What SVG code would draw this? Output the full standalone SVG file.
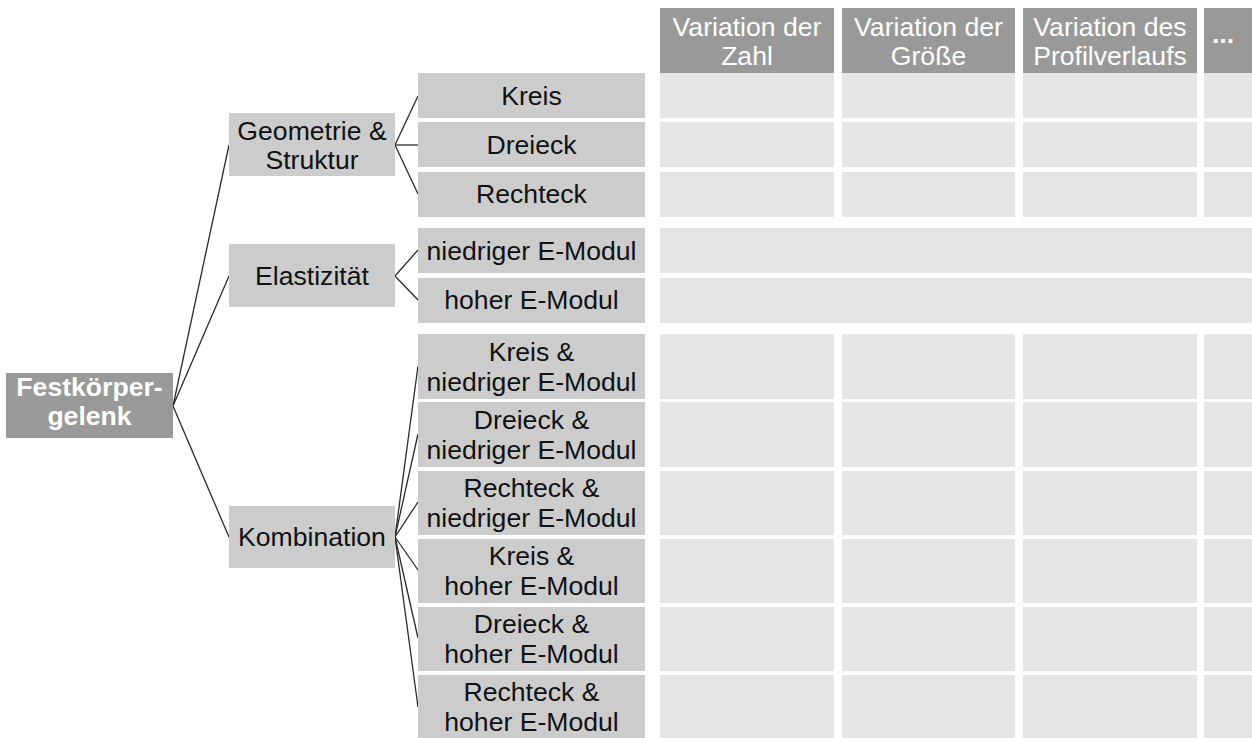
<svg xmlns="http://www.w3.org/2000/svg" width="1252" height="738" viewBox="0 0 1252 738">
  <style>
    .root { fill: #999999; }
    .node { fill: #cccccc; }
    .head { fill: #999999; }
    .cell { fill: #e5e5e5; }
    .t { font-family: "Liberation Sans", Arial, sans-serif; font-size: 26.6px; fill: #111111; text-anchor: middle; }
    .th { font-family: "Liberation Sans", Arial, sans-serif; font-size: 26.6px; fill: #ffffff; text-anchor: middle; }
    .tr { font-family: "Liberation Sans", Arial, sans-serif; font-size: 26.6px; font-weight: bold; fill: #ffffff; text-anchor: middle; }
    .link { stroke: #2a2a2a; stroke-width: 1.3; fill: none; }
  </style>

  <!-- column headers -->
  <g id="header-zahl">
    <rect class="head" x="660" y="8" width="174" height="65"/>
    <text class="th" x="747" y="36">Variation der</text>
    <text class="th" x="747" y="65">Zahl</text>
  </g>
  <g id="header-groesse">
    <rect class="head" x="842" y="8" width="173" height="65"/>
    <text class="th" x="928.5" y="36">Variation der</text>
    <text class="th" x="928.5" y="65">Größe</text>
  </g>
  <g id="header-profil">
    <rect class="head" x="1023" y="8" width="174" height="65"/>
    <text class="th" x="1110" y="36">Variation des</text>
    <text class="th" x="1110" y="65">Profilverlaufs</text>
  </g>
  <g id="header-more">
    <rect class="head" x="1204" y="8" width="48" height="65"/>
    <text class="th" x="1223" y="43" font-weight="bold">...</text>
  </g>

  <!-- matrix cells -->
  <g id="cells">
    <!-- shape rows -->
    <rect class="cell" x="660" y="73" width="174" height="45"/>
    <rect class="cell" x="842" y="73" width="173" height="45"/>
    <rect class="cell" x="1023" y="73" width="174" height="45"/>
    <rect class="cell" x="1204" y="73" width="48" height="45"/>
    <rect class="cell" x="660" y="122" width="174" height="45"/>
    <rect class="cell" x="842" y="122" width="173" height="45"/>
    <rect class="cell" x="1023" y="122" width="174" height="45"/>
    <rect class="cell" x="1204" y="122" width="48" height="45"/>
    <rect class="cell" x="660" y="172" width="174" height="45"/>
    <rect class="cell" x="842" y="172" width="173" height="45"/>
    <rect class="cell" x="1023" y="172" width="174" height="45"/>
    <rect class="cell" x="1204" y="172" width="48" height="45"/>
    <!-- elasticity rows span the full width -->
    <rect class="cell" x="660" y="228" width="592" height="45"/>
    <rect class="cell" x="660" y="278" width="592" height="45"/>
    <!-- combination rows -->
    <rect class="cell" x="660" y="334" width="174" height="65"/>
    <rect class="cell" x="842" y="334" width="173" height="65"/>
    <rect class="cell" x="1023" y="334" width="174" height="65"/>
    <rect class="cell" x="1204" y="334" width="48" height="65"/>
    <rect class="cell" x="660" y="402" width="174" height="65"/>
    <rect class="cell" x="842" y="402" width="173" height="65"/>
    <rect class="cell" x="1023" y="402" width="174" height="65"/>
    <rect class="cell" x="1204" y="402" width="48" height="65"/>
    <rect class="cell" x="660" y="471" width="174" height="64"/>
    <rect class="cell" x="842" y="471" width="173" height="64"/>
    <rect class="cell" x="1023" y="471" width="174" height="64"/>
    <rect class="cell" x="1204" y="471" width="48" height="64"/>
    <rect class="cell" x="660" y="539" width="174" height="64"/>
    <rect class="cell" x="842" y="539" width="173" height="64"/>
    <rect class="cell" x="1023" y="539" width="174" height="64"/>
    <rect class="cell" x="1204" y="539" width="48" height="64"/>
    <rect class="cell" x="660" y="607" width="174" height="64"/>
    <rect class="cell" x="842" y="607" width="173" height="64"/>
    <rect class="cell" x="1023" y="607" width="174" height="64"/>
    <rect class="cell" x="1204" y="607" width="48" height="64"/>
    <rect class="cell" x="660" y="675" width="174" height="64"/>
    <rect class="cell" x="842" y="675" width="173" height="64"/>
    <rect class="cell" x="1023" y="675" width="174" height="64"/>
    <rect class="cell" x="1204" y="675" width="48" height="64"/>
  </g>

  <!-- connectors -->
  <g id="connectors">
    <line class="link" x1="173" y1="406" x2="229" y2="145"/>
    <line class="link" x1="173" y1="406" x2="229" y2="276"/>
    <line class="link" x1="173" y1="406" x2="229" y2="537"/>
    <line class="link" x1="395" y1="145" x2="418" y2="96"/>
    <line class="link" x1="395" y1="145" x2="418" y2="145"/>
    <line class="link" x1="395" y1="145" x2="418" y2="194"/>
    <line class="link" x1="395" y1="276" x2="418" y2="250"/>
    <line class="link" x1="395" y1="276" x2="418" y2="300"/>
    <line class="link" x1="395" y1="537" x2="418" y2="366"/>
    <line class="link" x1="395" y1="537" x2="418" y2="434"/>
    <line class="link" x1="395" y1="537" x2="418" y2="502"/>
    <line class="link" x1="395" y1="537" x2="418" y2="570"/>
    <line class="link" x1="395" y1="537" x2="418" y2="638"/>
    <line class="link" x1="395" y1="537" x2="418" y2="707"/>
  </g>

  <!-- root -->
  <g id="festkoerpergelenk">
    <rect class="root" x="6" y="373" width="167" height="65"/>
    <text class="tr" x="89.5" y="396">Festkörper-</text>
    <text class="tr" x="89.5" y="425">gelenk</text>
  </g>

  <!-- second level -->
  <g id="geometrie">
    <rect class="node" x="229" y="113" width="166" height="63"/>
    <text class="t" x="312" y="140">Geometrie &amp;</text>
    <text class="t" x="312" y="169">Struktur</text>
  </g>
  <g id="elastizitaet">
    <rect class="node" x="229" y="244" width="166" height="63"/>
    <text class="t" x="312" y="285">Elastizität</text>
  </g>
  <g id="kombination">
    <rect class="node" x="229" y="506" width="166" height="62"/>
    <text class="t" x="312" y="546">Kombination</text>
  </g>

  <!-- third level -->
  <g id="kreis">
    <rect class="node" x="418" y="73" width="227" height="45"/>
    <text class="t" x="531.5" y="105">Kreis</text>
  </g>
  <g id="dreieck">
    <rect class="node" x="418" y="122" width="227" height="45"/>
    <text class="t" x="531.5" y="154">Dreieck</text>
  </g>
  <g id="rechteck">
    <rect class="node" x="418" y="172" width="227" height="45"/>
    <text class="t" x="531.5" y="203">Rechteck</text>
  </g>
  <g id="niedriger-e-modul">
    <rect class="node" x="418" y="228" width="227" height="45"/>
    <text class="t" x="531.5" y="260">niedriger E-Modul</text>
  </g>
  <g id="hoher-e-modul">
    <rect class="node" x="418" y="278" width="227" height="45"/>
    <text class="t" x="531.5" y="309">hoher E-Modul</text>
  </g>
  <g id="kreis-niedrig">
    <rect class="node" x="418" y="334" width="227" height="65"/>
    <text class="t" x="531.5" y="361">Kreis &amp;</text>
    <text class="t" x="531.5" y="391">niedriger E-Modul</text>
  </g>
  <g id="dreieck-niedrig">
    <rect class="node" x="418" y="402" width="227" height="65"/>
    <text class="t" x="531.5" y="429">Dreieck &amp;</text>
    <text class="t" x="531.5" y="459">niedriger E-Modul</text>
  </g>
  <g id="rechteck-niedrig">
    <rect class="node" x="418" y="471" width="227" height="64"/>
    <text class="t" x="531.5" y="497">Rechteck &amp;</text>
    <text class="t" x="531.5" y="527">niedriger E-Modul</text>
  </g>
  <g id="kreis-hoch">
    <rect class="node" x="418" y="539" width="227" height="64"/>
    <text class="t" x="531.5" y="565">Kreis &amp;</text>
    <text class="t" x="531.5" y="595">hoher E-Modul</text>
  </g>
  <g id="dreieck-hoch">
    <rect class="node" x="418" y="607" width="227" height="64"/>
    <text class="t" x="531.5" y="633">Dreieck &amp;</text>
    <text class="t" x="531.5" y="663">hoher E-Modul</text>
  </g>
  <g id="rechteck-hoch">
    <rect class="node" x="418" y="675" width="227" height="64"/>
    <text class="t" x="531.5" y="701">Rechteck &amp;</text>
    <text class="t" x="531.5" y="731">hoher E-Modul</text>
  </g>
</svg>
